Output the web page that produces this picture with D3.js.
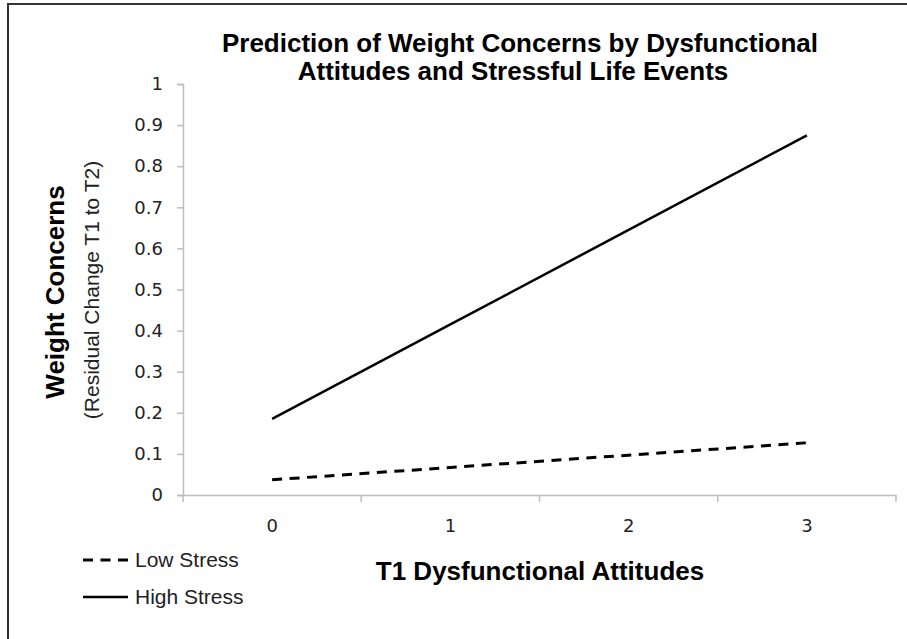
<!DOCTYPE html>
<html>
<head>
<meta charset="utf-8">
<script src="https://cdn.jsdelivr.net/npm/d3@7"></script>
<style>
  html, body { margin: 0; padding: 0; background: #fff; }
  svg { display: block; }
  text { font-family: "Liberation Sans", Arial, sans-serif; }
</style>
</head>
<body>
<svg id="chart" width="907" height="639"></svg>
<script>
// ---- data ----
const categories = ["0", "1", "2", "3"];
const lowStress  = [0.037, 0.067, 0.097, 0.127];
const highStress = [0.185, 0.415, 0.645, 0.875];
const yTicks = [0, 0.1, 0.2, 0.3, 0.4, 0.5, 0.6, 0.7, 0.8, 0.9, 1];
const yTickLabels = ["0", "0.1", "0.2", "0.3", "0.4", "0.5", "0.6", "0.7", "0.8", "0.9", "1"];
const seriesNames = ["Low Stress", "High Stress"];
const titleLines = ["Prediction of Weight Concerns by Dysfunctional", "Attitudes and Stressful Life Events"];

const svg = d3.select("#chart");

// frame (left and top edges visible)
svg.append("path")
  .attr("d", "M8,639 L8,4 L907,4")
  .attr("fill", "none").attr("stroke", "#333").attr("stroke-width", 2);

const x = d3.scaleBand().domain(categories).range([183, 896]).padding(0);
const y = d3.scaleLinear().domain([0, 1]).range([495, 84]);

const axisColor = "#bdbdbd";
const tickFont = "DejaVu Sans, sans-serif";

// y axis
const yAxis = svg.append("g").attr("transform", "translate(183,0)")
  .call(d3.axisLeft(y).tickValues(yTicks).tickFormat((d, i) => yTickLabels[i]).tickSize(6).tickPadding(14));
yAxis.attr("font-family", tickFont).attr("font-size", 18);
yAxis.select(".domain").attr("stroke", axisColor).attr("stroke-width", 1.5);
yAxis.selectAll(".tick line").attr("stroke", axisColor).attr("stroke-width", 1.5);
yAxis.selectAll(".tick text").attr("fill", "#222")
  .style("font-size", "18px").style("font-family", tickFont);

// x axis (category axis, ticks between categories)
const xAxis = svg.append("g").attr("transform", "translate(0,495)")
  .call(d3.axisBottom(x).tickSize(0).tickPadding(24));
xAxis.attr("font-family", tickFont).attr("font-size", 18);
xAxis.select(".domain").attr("stroke", axisColor).attr("stroke-width", 1.5);
xAxis.selectAll(".tick text").attr("fill", "#222")
  .style("font-size", "18px").style("font-family", tickFont);
const boundaries = categories.map(c => x(c)).concat([x(categories[categories.length - 1]) + x.bandwidth()]);
xAxis.selectAll(".bound").data(boundaries).enter().append("line")
  .attr("class", "bound")
  .attr("x1", d => d).attr("x2", d => d).attr("y1", 0).attr("y2", 7)
  .attr("stroke", axisColor).attr("stroke-width", 1.5);

// lines
const line = d3.line().x((d, i) => x(categories[i]) + x.bandwidth() / 2).y(d => y(d));
svg.append("path").datum(lowStress).attr("d", line)
  .attr("fill", "none").attr("stroke", "#000").attr("stroke-width", 3)
  .attr("stroke-dasharray", "10,7.5");
svg.append("path").datum(highStress).attr("d", line)
  .attr("fill", "none").attr("stroke", "#000").attr("stroke-width", 2.5);

// title
svg.append("text").attr("x", 520).attr("y", 52).attr("text-anchor", "middle")
  .style("font-size", "26px").style("font-weight", "bold").text(titleLines[0]);
svg.append("text").attr("x", 513).attr("y", 80).attr("text-anchor", "middle")
  .style("font-size", "26px").style("font-weight", "bold").text(titleLines[1]);

// y axis titles
svg.append("text").attr("transform", "translate(64,292) rotate(-90)").attr("text-anchor", "middle")
  .style("font-size", "26px").style("font-weight", "bold").text("Weight Concerns");
svg.append("text").attr("transform", "translate(99,290) rotate(-90)").attr("text-anchor", "middle")
  .style("font-size", "21px").attr("fill", "#222").text("(Residual Change T1 to T2)");

// x axis title
svg.append("text").attr("x", 540).attr("y", 580).attr("text-anchor", "middle")
  .style("font-size", "26px").style("font-weight", "bold").text("T1 Dysfunctional Attitudes");

// legend
const legendY = [560, 597];
const leg = svg.selectAll(".leg").data(seriesNames).enter().append("g").attr("class", "leg");
leg.append("line").attr("x1", 83).attr("x2", 128)
  .attr("y1", (d, i) => legendY[i]).attr("y2", (d, i) => legendY[i])
  .attr("stroke", "#000").attr("stroke-width", (d, i) => i === 0 ? 3 : 2.5)
  .attr("stroke-dasharray", (d, i) => i === 0 ? "10,7.5" : null);
leg.append("text").attr("x", 135).attr("y", (d, i) => legendY[i] + 7)
  .style("font-size", "21px").attr("fill", "#222").text(d => d);
</script>
</body>
</html>
